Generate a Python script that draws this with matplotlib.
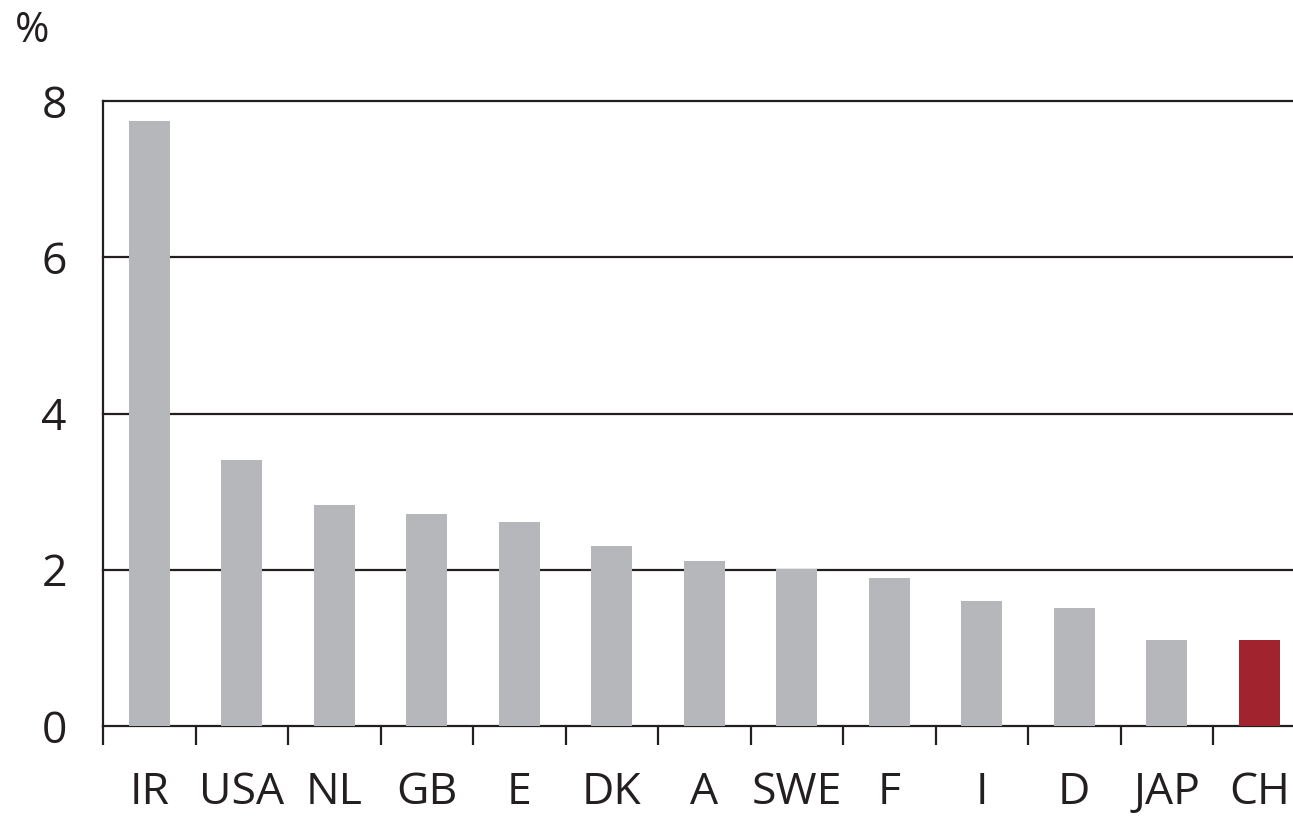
import numpy as np
import matplotlib; matplotlib.use("Agg")
import matplotlib.pyplot as plt

countries = ["IR", "USA", "NL", "GB", "E", "DK", "A", "SWE", "F", "I", "D", "JAP", "CH"]
values = [7.75, 3.41, 2.83, 2.71, 2.61, 2.30, 2.11, 2.01, 1.89, 1.60, 1.51, 1.10, 1.10]
yticks = [0, 2, 4, 6, 8]

GREY = "#b6b7ba"
RED = "#a0232d"

plt.rcParams["font.family"] = ["Open Sans", "DejaVu Sans"]

fig = plt.figure(figsize=(12.93, 8.16), dpi=100)
ax = fig.add_axes([103/1293, 90/816, 1202.5/1293, 625/816])

x = np.arange(len(countries))
colors = [GREY] * (len(countries) - 1) + [RED]
ax.bar(x, values, width=0.44, color=colors, zorder=3)

ax.set_xlim(-0.5, len(countries) - 0.5)
ax.set_ylim(0, 8)
for v in yticks[1:]:
    ax.axhline(v, color="#231f20", lw=1.6, zorder=2, clip_on=False)

for s in ["top", "right"]:
    ax.spines[s].set_visible(False)
for s in ["left", "bottom"]:
    ax.spines[s].set_color("#231f20")
    ax.spines[s].set_linewidth(1.6)

ax.set_xticks(np.arange(-0.5, len(countries), 1.0))
ax.set_xticklabels([])
ax.tick_params(axis="x", which="major", direction="out", length=14, width=1.6, color="#231f20")
ax.set_xticks(x, minor=True)
ax.set_xticklabels(countries, minor=True, fontsize=32, color="#231f20")
ax.tick_params(axis="x", which="minor", length=0, pad=32)

ax.set_yticks(yticks)
ax.set_yticklabels([str(v) for v in yticks], fontsize=32, color="#231f20")
ax.tick_params(axis="y", length=0, pad=26)

fig.text(15/1293, 1 - 31/816, "%", fontsize=30, color="#231f20", va="center", ha="left")

fig.savefig("out.png", dpi=100)
